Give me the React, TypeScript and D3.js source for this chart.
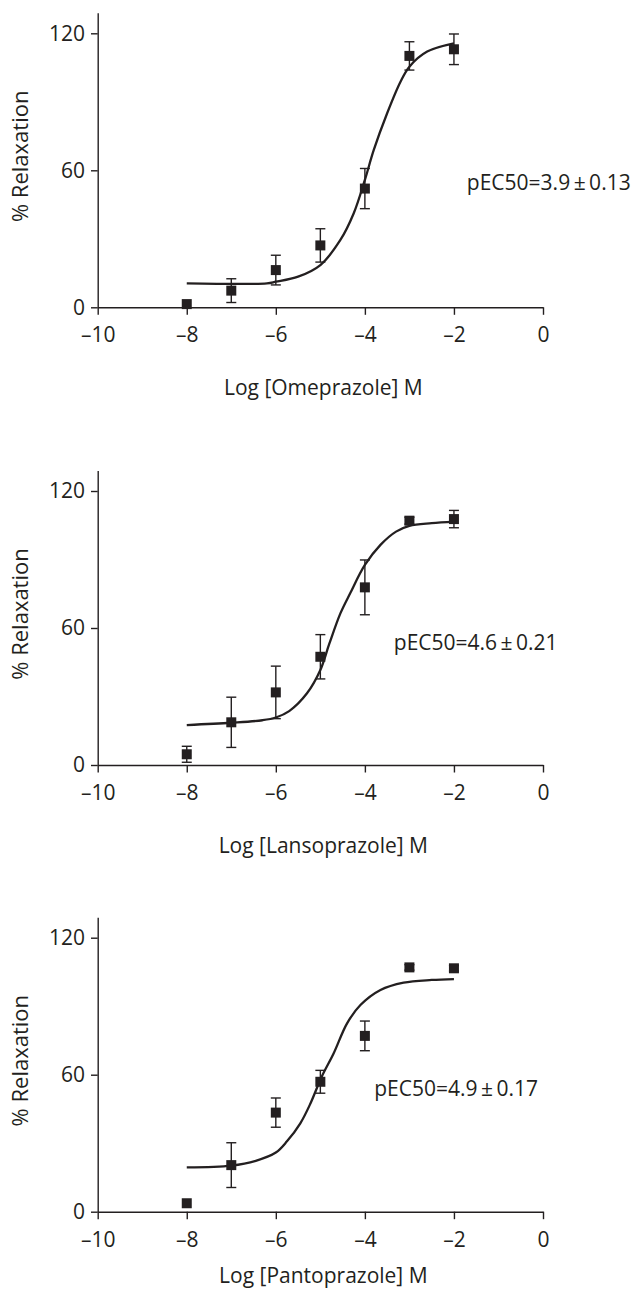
import React, { useRef, useEffect } from "react";
import * as d3 from "d3";

// log molar concentrations used for every drug
const logDose = [-8, -7, -6, -5, -4, -3, -2];

// omeprazole: mean % relaxation and SEM, plus the fitted curve
const omeprazoleMean = [1.4, 7.3, 16.3, 27.1, 52.0, 110.1, 113.0];
const omeprazoleSem = [0, 5.2, 6.5, 7.3, 8.8, 6.2, 6.7];
const omeprazoleFitX = [-8, -6.2, -6, -5.5, -5, -4.55, -4.25, -4, -3.8, -3.5, -3.2, -3, -2.6, -2];
const omeprazoleFitY = [10.5, 10.5, 11.2, 13.4, 18.5, 29.5, 41.2, 55.8, 68.9, 85, 98.8, 105.4, 112, 115.6];

// lansoprazole
const lansoprazoleMean = [4.7, 18.7, 31.8, 47.4, 77.8, 107.0, 107.7];
const lansoprazoleSem = [3.5, 11, 11.5, 9.7, 12, 1.5, 3.8];
const lansoprazoleFitX = [-8, -7, -6.3, -6, -5.7, -5.3, -5, -4.8, -4.55, -4.33, -4, -3.65, -3.3, -3, -2.5, -2];
const lansoprazoleFitY = [17.5, 18.5, 19.6, 20.8, 23.6, 31.4, 41.6, 53, 66.4, 75.2, 87.6, 96.4, 102.2, 104.7, 105.9, 106.6];

// pantoprazole
const pantoprazoleMean = [3.7, 20.4, 43.4, 56.9, 77.0, 107.0, 106.6];
const pantoprazoleSem = [0, 9.8, 6.4, 5, 6.5, 1.2, 1.2];
const pantoprazoleFitX = [-8, -7, -6.45, -6, -5.75, -5.45, -5.22, -4.97, -4.7, -4.4, -4.1, -3.65, -3.13, -2.5, -2];
const pantoprazoleFitY = [19.4, 20.2, 22.3, 25.9, 30.8, 38.7, 47.5, 59.1, 69.4, 82.5, 90.5, 97.1, 100.3, 101.5, 101.9];

const xTicks = [-10, -8, -6, -4, -2, 0];
const xTickLabels = ["\u201310", "\u20138", "\u20136", "\u20134", "\u20132", "0"];
const yTicks = [0, 60, 120];
const yTickLabels = ["0", "60", "120"];

const drugNames = ["Omeprazole", "Lansoprazole", "Pantoprazole"];
const pec50Labels = [
    "pEC50=3.9\u2009\u00b1\u20090.13",
    "pEC50=4.6\u2009\u00b1\u20090.21",
    "pEC50=4.9\u2009\u00b1\u20090.17",
];
const yTitle = "% Relaxation";

const ink = "#231f20";
const font = "'Open Sans', sans-serif";

// where each panel sits on the page
const layout = [
    { y0: 307.3, titleDy: 88, labelAt: [-1.71, 51.5] },
    { y0: 765, titleDy: 88, labelAt: [-3.35, 50.5] },
    { y0: 1211.7, titleDy: 71.5, labelAt: [-3.79, 50.7] },
];

const panels = [
    { mean: omeprazoleMean, sem: omeprazoleSem, fitX: omeprazoleFitX, fitY: omeprazoleFitY },
    { mean: lansoprazoleMean, sem: lansoprazoleSem, fitX: lansoprazoleFitX, fitY: lansoprazoleFitY },
    { mean: pantoprazoleMean, sem: pantoprazoleSem, fitX: pantoprazoleFitX, fitY: pantoprazoleFitY },
];

const width = 631;
const height = 1291;

const App = () => {
    const svgRef = useRef(null);

    useEffect(() => {
        const svg = d3.select(svgRef.current);
        svg.selectAll("*").remove();

        const x = d3.scaleLinear().domain([-10, 0]).range([97.7, 543]);
        const pxPerUnit = 2.2833;
        const box = 10;
        const cap = 5;
        const fs = "21px";

        panels.forEach((p, k) => {
            const lay = layout[k];
            const y = d3.scaleLinear().domain([0, 129]).range([lay.y0, lay.y0 - 129 * pxPerUnit]);
            const g = svg.append("g");

            // x axis
            const xAxis = d3.axisBottom(x)
                .tickValues(xTicks)
                .tickFormat((d, i) => xTickLabels[i])
                .tickSize(7.5)
                .tickSizeOuter(0)
                .tickPadding(12.5);
            const gx = g.append("g").attr("transform", "translate(0," + lay.y0 + ")").call(xAxis);

            // y axis
            const yAxis = d3.axisLeft(y)
                .tickValues(yTicks)
                .tickFormat((d, i) => yTickLabels[i])
                .tickSize(6.7)
                .tickSizeOuter(0)
                .tickPadding(6);
            const gy = g.append("g").attr("transform", "translate(" + x(-10) + ",0)").call(yAxis);

            [gx, gy].forEach((ax) => {
                ax.select(".domain").attr("stroke", ink).attr("stroke-width", 1.4);
                ax.selectAll(".tick line").attr("stroke", ink).attr("stroke-width", 1.4);
                ax.selectAll(".tick text")
                    .attr("fill", ink)
                    .style("font-family", font)
                    .style("font-size", fs);
            });

            // fitted curve
            const fit = p.fitX.map((v, i) => [v, p.fitY[i]]);
            const fitLine = d3.line()
                .x((d) => x(d[0]))
                .y((d) => y(d[1]))
                .curve(d3.curveCatmullRom.alpha(0.5));
            g.append("path")
                .attr("d", fitLine(fit))
                .attr("fill", "none")
                .attr("stroke", ink)
                .attr("stroke-width", 2.3);

            // error bars
            logDose.forEach((dose, i) => {
                const s = p.sem[i];
                if (!s) return;
                const cx = x(dose);
                const top = y(p.mean[i] + s);
                const bot = y(p.mean[i] - s);
                g.append("line").attr("x1", cx).attr("x2", cx).attr("y1", top).attr("y2", bot)
                    .attr("stroke", ink).attr("stroke-width", 1.4);
                [top, bot].forEach((yy) => {
                    g.append("line").attr("x1", cx - cap).attr("x2", cx + cap).attr("y1", yy).attr("y2", yy)
                        .attr("stroke", ink).attr("stroke-width", 1.4);
                });
            });

            // means
            g.selectAll(".pt")
                .data(logDose)
                .enter()
                .append("rect")
                .attr("x", (d) => x(d) - box / 2)
                .attr("y", (d, i) => y(p.mean[i]) - box / 2)
                .attr("width", box)
                .attr("height", box)
                .attr("fill", ink);

            // pEC50 label
            g.append("text")
                .attr("x", x(lay.labelAt[0]))
                .attr("y", y(lay.labelAt[1]))
                .attr("fill", ink)
                .style("font-family", font)
                .style("font-size", fs)
                .text(pec50Labels[k]);

            // axis titles
            g.append("text")
                .attr("x", (x(-10) + x(0)) / 2 + 3)
                .attr("y", lay.y0 + lay.titleDy)
                .attr("text-anchor", "middle")
                .attr("fill", ink)
                .style("font-family", font)
                .style("font-size", fs)
                .text("Log [" + drugNames[k] + "] M");

            g.append("text")
                .attr("transform", "translate(18.5," + (lay.y0 - 151) + ") rotate(-90)")
                .attr("text-anchor", "middle")
                .attr("dominant-baseline", "central")
                .attr("fill", ink)
                .style("font-family", font)
                .style("font-size", "22px")
                .text(yTitle);
        });
    }, []);

    return (
        <svg
            ref={svgRef}
            width={width}
            height={height}
            style={{ position: "absolute", left: 0, top: 0, background: "#fff" }}
        ></svg>
    );
};

export default App;
